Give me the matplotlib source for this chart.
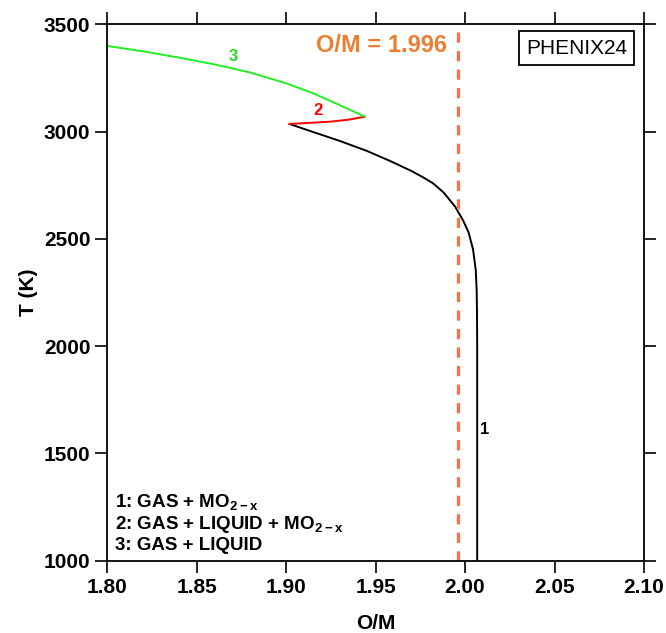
import matplotlib
matplotlib.use("Agg")
import matplotlib.pyplot as plt

plt.rcParams['font.family'] = ['Liberation Sans', 'DejaVu Sans']
plt.rcParams['mathtext.fontset'] = 'custom'
plt.rcParams['mathtext.rm'] = 'Liberation Sans'
plt.rcParams['mathtext.bf'] = 'Liberation Sans:bold'

# curve 1: GAS + MO2-x
black_om = [1.902, 1.915, 1.930, 1.945, 1.958, 1.970, 1.976, 1.982, 1.988, 1.9945,
            1.999, 2.002, 2.0045, 2.006, 2.0065, 2.0067, 2.0068, 2.0068]
black_T = [3036, 2999, 2957, 2911, 2864, 2817, 2790, 2760, 2717, 2650,
           2585, 2530, 2450, 2355, 2262, 2150, 2000, 1000]
# curve 2: GAS + LIQUID + MO2-x
red_om = [1.902, 1.913, 1.925, 1.935, 1.944]
red_T = [3036, 3041, 3047, 3056, 3070]
# curve 3: GAS + LIQUID
green_om = [1.800, 1.820, 1.840, 1.860, 1.880, 1.900, 1.915, 1.930, 1.944]
green_T = [3400, 3375, 3346, 3314, 3276, 3226, 3180, 3124, 3070]

om_ref = 1.996
xticks = [1.80, 1.85, 1.90, 1.95, 2.00, 2.05, 2.10]
yticks = [1000, 1500, 2000, 2500, 3000, 3500]

fig = plt.figure(figsize=(6.66, 6.33), dpi=100)
ax = fig.add_axes([0.1607, 0.1145, 0.8063, 0.8468])

ax.plot(black_om, black_T, color='black', lw=1.4)
ax.plot(red_om, red_T, color='#FF0000', lw=1.4)
ax.plot(green_om, green_T, color='#22EE22', lw=1.4)
ax.axvline(om_ref, color='#FF7043', lw=2.3, dashes=(3.2, 2.6))

ax.text(1.8704, 3350, '3', color='#22DD22', fontsize=12, fontweight='bold', ha='center', va='center')
ax.text(1.9179, 3097, '2', color='#FF0000', fontsize=12, fontweight='bold', ha='center', va='center')
ax.text(2.0084, 1609, '1', color='black', fontsize=12, fontweight='bold', ha='left', va='center')

ax.text(1.990, 3404, 'O/M = 1.996', color='#ED7D31', fontsize=17, fontweight='bold',
        ha='right', va='center')
ax.text(2.0905, 3390, 'PHENIX24', color='black', fontsize=15, ha='right', va='center',
        bbox=dict(boxstyle='square,pad=0.35', fc='white', ec='black', lw=1.3))

legend_lines = [r'1: GAS + MO$_\mathbf{2-x}$',
                r'2: GAS + LIQUID + MO$_\mathbf{2-x}$',
                '3: GAS + LIQUID']
legend_T = [1268, 1166, 1068]
for s, t in zip(legend_lines, legend_T):
    ax.text(1.8045, t, s, fontsize=13.5, fontweight='bold', ha='left', va='center')

ax.set_xlim(1.80, 2.10)
ax.set_ylim(1000, 3500)
ax.set_xticks(xticks)
ax.set_yticks(yticks)
ax.set_xticklabels([f'{v:.2f}' for v in xticks])
ax.tick_params(direction='out', length=8.5, width=1.2, labelsize=15, top=True, right=True,
               labeltop=False, labelright=False)
ax.tick_params(axis='x', pad=4)
ax.tick_params(axis='y', pad=3.5)
for lab in ax.get_xticklabels() + ax.get_yticklabels():
    lab.set_fontweight('bold')
for sp in ax.spines.values():
    sp.set_linewidth(1.3)

ax.set_xlabel('O/M', fontsize=15, fontweight='bold')
ax.set_ylabel('T (K)', fontsize=15, fontweight='bold')
ax.xaxis.set_label_coords(0.5, -0.099)
ax.yaxis.set_label_coords(-0.128, 0.5)

fig.savefig('out.png', dpi=100)
